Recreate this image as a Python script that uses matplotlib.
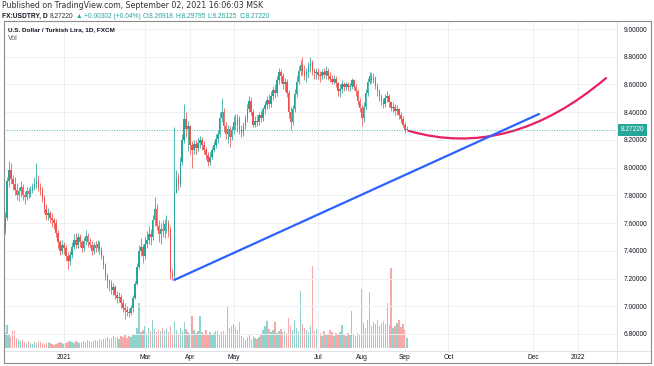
import matplotlib
matplotlib.use('Agg')
import matplotlib.pyplot as plt
import matplotlib.transforms as mtransforms
from matplotlib.path import Path
from matplotlib.patches import PathPatch
from matplotlib.lines import Line2D
import numpy as np
import pandas as pd

# --- Données : USDTRY, bougies journalières FXCM (20 nov 2020 -> 2 sept 2021) ---
first_day = '2020-11-20'

opens = [
    7.55, 7.64, 7.90, 7.98, 7.92, 7.88, 7.84, 7.80, 7.83, 7.86,
    7.80, 7.79, 7.83, 7.81, 7.84, 7.86, 7.88, 7.90, 7.86, 7.84,
    7.78, 7.70, 7.66, 7.67, 7.64, 7.62, 7.60, 7.53, 7.46, 7.40,
    7.44, 7.42, 7.36, 7.33, 7.37, 7.43, 7.48, 7.44, 7.50, 7.46,
    7.42, 7.47, 7.51, 7.46, 7.44, 7.40, 7.44, 7.42, 7.45, 7.41,
    7.36, 7.30, 7.22, 7.18, 7.16, 7.12, 7.14, 7.08, 7.06, 7.07,
    7.02, 6.99, 6.97, 6.96, 6.95, 6.99, 7.06, 7.16, 7.28, 7.40,
    7.43, 7.36, 7.45, 7.48, 7.52, 7.50, 7.62, 7.70, 7.58, 7.52,
    7.56, 7.54, 7.59, 7.60, 7.55, 7.24, 7.22, 7.82, 7.92, 7.88,
    8.04, 8.20, 8.35, 8.28, 8.30, 8.16, 8.13, 8.17, 8.14, 8.18,
    8.20, 8.16, 8.13, 8.09, 8.04, 8.08, 8.13, 8.16, 8.21, 8.24,
    8.36, 8.40, 8.30, 8.24, 8.28, 8.22, 8.27, 8.33, 8.31, 8.36,
    8.28, 8.25, 8.30, 8.35, 8.42, 8.48, 8.40, 8.31, 8.34, 8.33,
    8.38, 8.36, 8.42, 8.45, 8.49, 8.46, 8.52, 8.56, 8.54, 8.63,
    8.69, 8.66, 8.60, 8.62, 8.54, 8.40, 8.33, 8.42, 8.53, 8.62,
    8.70, 8.74, 8.70, 8.66, 8.69, 8.73, 8.76, 8.70, 8.68, 8.69,
    8.67, 8.66, 8.69, 8.67, 8.70, 8.66, 8.64, 8.62, 8.64, 8.61,
    8.55, 8.57, 8.60, 8.58, 8.60, 8.58, 8.59, 8.63, 8.58, 8.55,
    8.48, 8.43, 8.36, 8.44, 8.54, 8.62, 8.66, 8.63, 8.65, 8.59,
    8.55, 8.51, 8.48, 8.46, 8.50, 8.52, 8.47, 8.43, 8.44, 8.41,
    8.42, 8.38, 8.35, 8.31, 8.26918,
]
highs = [
    7.68, 7.93, 8.05, 8.03, 7.95, 7.93, 7.89, 7.86, 7.90, 7.88,
    7.83, 7.86, 7.85, 7.87, 7.89, 7.93, 8.03, 7.95, 7.89, 7.86,
    7.80, 7.74, 7.71, 7.69, 7.67, 7.64, 7.63, 7.55, 7.48, 7.48,
    7.46, 7.44, 7.39, 7.40, 7.46, 7.52, 7.53, 7.53, 7.52, 7.48,
    7.50, 7.55, 7.53, 7.49, 7.47, 7.46, 7.47, 7.48, 7.47, 7.43,
    7.37, 7.31, 7.24, 7.20, 7.19, 7.17, 7.15, 7.11, 7.10, 7.09,
    7.05, 7.02, 7.00, 6.99, 7.01, 7.08, 7.18, 7.31, 7.44, 7.49,
    7.45, 7.50, 7.54, 7.58, 7.56, 7.66, 7.79, 7.74, 7.62, 7.60,
    7.62, 7.63, 7.66, 7.62, 7.58, 7.27, 8.29, 7.98, 7.96, 8.08,
    8.24, 8.46, 8.40, 8.34, 8.31, 8.19, 8.20, 8.20, 8.22, 8.23,
    8.22, 8.19, 8.15, 8.11, 8.11, 8.15, 8.19, 8.24, 8.27, 8.40,
    8.50, 8.43, 8.33, 8.31, 8.30, 8.30, 8.37, 8.39, 8.39, 8.37,
    8.31, 8.33, 8.38, 8.46, 8.52, 8.51, 8.42, 8.37, 8.38, 8.40,
    8.41, 8.44, 8.48, 8.52, 8.53, 8.55, 8.59, 8.60, 8.66, 8.72,
    8.71, 8.68, 8.65, 8.64, 8.56, 8.44, 8.45, 8.57, 8.66, 8.73,
    8.78, 8.80, 8.74, 8.72, 8.76, 8.80, 8.78, 8.72, 8.72, 8.72,
    8.70, 8.71, 8.72, 8.73, 8.72, 8.69, 8.67, 8.67, 8.66, 8.62,
    8.60, 8.63, 8.62, 8.62, 8.62, 8.61, 8.65, 8.64, 8.60, 8.57,
    8.50, 8.45, 8.47, 8.57, 8.65, 8.69, 8.69, 8.68, 8.66, 8.61,
    8.57, 8.53, 8.50, 8.53, 8.55, 8.53, 8.48, 8.47, 8.46, 8.45,
    8.43, 8.40, 8.37, 8.33, 8.29795,
]
lows = [
    7.52, 7.62, 7.86, 7.88, 7.84, 7.80, 7.77, 7.76, 7.79, 7.77,
    7.74, 7.77, 7.78, 7.79, 7.82, 7.84, 7.85, 7.83, 7.80, 7.75,
    7.67, 7.62, 7.62, 7.60, 7.57, 7.56, 7.50, 7.42, 7.37, 7.38,
    7.38, 7.33, 7.27, 7.30, 7.35, 7.41, 7.42, 7.42, 7.43, 7.39,
    7.40, 7.44, 7.43, 7.42, 7.37, 7.38, 7.39, 7.40, 7.38, 7.34,
    7.27, 7.19, 7.13, 7.11, 7.09, 7.08, 7.05, 7.02, 7.03, 6.99,
    6.96, 6.91, 6.93, 6.92, 6.94, 6.96, 7.05, 7.15, 7.27, 7.36,
    7.31, 7.34, 7.42, 7.45, 7.44, 7.48, 7.58, 7.55, 7.46, 7.45,
    7.50, 7.49, 7.53, 7.50, 7.20, 7.19, 7.20, 7.82, 7.84, 7.86,
    8.02, 8.18, 8.22, 8.12, 8.10, 8.00, 8.10, 8.10, 8.12, 8.14,
    8.13, 8.10, 8.06, 8.01, 8.02, 8.06, 8.11, 8.14, 8.18, 8.22,
    8.33, 8.26, 8.21, 8.18, 8.15, 8.20, 8.24, 8.27, 8.26, 8.24,
    8.22, 8.23, 8.28, 8.33, 8.40, 8.38, 8.29, 8.29, 8.30, 8.31,
    8.33, 8.34, 8.39, 8.42, 8.43, 8.44, 8.49, 8.50, 8.52, 8.60,
    8.61, 8.57, 8.55, 8.51, 8.36, 8.27, 8.31, 8.40, 8.51, 8.60,
    8.66, 8.67, 8.63, 8.62, 8.65, 8.69, 8.67, 8.64, 8.64, 8.64,
    8.62, 8.64, 8.65, 8.64, 8.63, 8.62, 8.60, 8.60, 8.58, 8.52,
    8.51, 8.54, 8.55, 8.56, 8.55, 8.55, 8.57, 8.56, 8.52, 8.45,
    8.40, 8.30, 8.33, 8.42, 8.52, 8.60, 8.61, 8.61, 8.57, 8.52,
    8.48, 8.45, 8.43, 8.44, 8.47, 8.44, 8.41, 8.40, 8.38, 8.38,
    8.35, 8.32, 8.29, 8.25, 8.26125,
]
closes = [
    7.64, 7.90, 7.98, 7.92, 7.88, 7.84, 7.80, 7.83, 7.86, 7.80,
    7.79, 7.83, 7.81, 7.84, 7.86, 7.88, 7.90, 7.86, 7.84, 7.78,
    7.70, 7.66, 7.67, 7.64, 7.62, 7.60, 7.53, 7.46, 7.40, 7.44,
    7.42, 7.36, 7.33, 7.37, 7.43, 7.48, 7.44, 7.50, 7.46, 7.42,
    7.47, 7.51, 7.46, 7.44, 7.40, 7.44, 7.42, 7.45, 7.41, 7.36,
    7.30, 7.22, 7.18, 7.16, 7.12, 7.14, 7.08, 7.06, 7.07, 7.02,
    6.99, 6.97, 6.96, 6.95, 6.99, 7.06, 7.16, 7.28, 7.40, 7.43,
    7.36, 7.45, 7.48, 7.52, 7.50, 7.62, 7.70, 7.58, 7.52, 7.56,
    7.54, 7.59, 7.60, 7.55, 7.24, 7.22, 7.82, 7.92, 7.88, 8.04,
    8.20, 8.35, 8.28, 8.30, 8.16, 8.13, 8.17, 8.14, 8.18, 8.20,
    8.16, 8.13, 8.09, 8.04, 8.08, 8.13, 8.16, 8.21, 8.24, 8.36,
    8.40, 8.30, 8.24, 8.28, 8.22, 8.27, 8.33, 8.31, 8.36, 8.28,
    8.25, 8.30, 8.35, 8.42, 8.48, 8.40, 8.31, 8.34, 8.33, 8.38,
    8.36, 8.42, 8.45, 8.49, 8.46, 8.52, 8.56, 8.54, 8.63, 8.69,
    8.66, 8.60, 8.62, 8.54, 8.40, 8.33, 8.42, 8.53, 8.62, 8.70,
    8.74, 8.70, 8.66, 8.69, 8.73, 8.76, 8.70, 8.68, 8.69, 8.67,
    8.66, 8.69, 8.67, 8.70, 8.66, 8.64, 8.62, 8.64, 8.61, 8.55,
    8.57, 8.60, 8.58, 8.60, 8.58, 8.59, 8.63, 8.58, 8.55, 8.48,
    8.43, 8.36, 8.44, 8.54, 8.62, 8.66, 8.63, 8.65, 8.59, 8.55,
    8.51, 8.48, 8.46, 8.50, 8.52, 8.47, 8.43, 8.44, 8.41, 8.42,
    8.38, 8.35, 8.31, 8.26918, 8.27220,
]
volumes = [
    15, 23, 13, 11, 17, 18, 10, 9, 7, 8,
    6, 5, 7, 5, 4, 6, 5, 7, 6, 5,
    4, 5, 6, 5, 4, 3, 4, 5, 6, 5,
    4, 5, 6, 7, 6, 5, 7, 6, 5, 6,
    7, 6, 8, 7, 6, 7, 8, 7, 9, 8,
    9, 10, 11, 9, 10, 12, 10, 11, 9, 12,
    11, 13, 10, 12, 11, 13, 14, 20, 45, 16,
    18, 22, 15, 20, 17, 28, 19, 16, 18, 17,
    20, 17, 19, 16, 22, 14, 27, 18, 15, 20,
    17, 26, 19, 16, 14, 32, 18, 15, 17, 32,
    16, 13, 18, 14, 16, 13, 15, 17, 17, 14,
    16, 17, 13, 42, 20, 22, 24, 21, 18, 26,
    12, 10, 8, 11, 13, 9, 12, 10, 9, 11,
    13, 18, 22, 27, 19, 16, 18, 26, 15, 17,
    19, 16, 17, 15, 30, 22, 18, 28, 20, 17,
    57, 24, 20, 18, 16, 22, 82, 17, 19, 37,
    15, 12, 17, 14, 13, 18, 16, 12, 15, 14,
    16, 23, 14, 12, 15, 13, 37, 14, 12, 15,
    13, 59, 25, 20, 28, 56, 22, 26, 24, 28,
    22, 25, 27, 24, 45, 23, 80, 20, 22, 25,
    28, 21, 24, 18, 10,
]

last_price = 8.27220

# dessins : ligne de tendance et courbe de projection
trend_dates = ['2021-03-22', '2021-12-06']
trend_prices = [7.19, 8.387]
curve_dates = ['2021-09-03', '2021-11-15', '2022-01-21']
curve_prices = [8.265, 8.055, 8.646]

price_ticks = [6.8, 7.0, 7.2, 7.4, 7.6, 7.8, 8.0, 8.2, 8.4, 8.6, 8.8, 9.0]
time_ticks = ['2021-01-01', '2021-03-01', '2021-04-01', '2021-05-03', '2021-07-01',
              '2021-08-02', '2021-09-01', '2021-10-01', '2021-12-01', '2022-01-03']
time_labels = ['2021', 'Mar', 'Apr', 'May', 'Jul', 'Aug', 'Sep', 'Oct', 'Dec', '2022']

# --- Couleurs ---
UP, DOWN = '#26a69a', '#ef5350'
UP_VOL, DOWN_VOL = '#92d2cc', '#f7a9a7'
TXT = '#131722'
FONT = ['Liberation Sans', 'DejaVu Sans']

# axe des x en jours ouvrés
days = pd.bdate_range(first_day, '2022-03-31')
pos = {d: i for i, d in enumerate(days)}
def xi(d):
    return pos[pd.Timestamp(d)]

o = np.array(opens); h = np.array(highs); l = np.array(lows); c = np.array(closes)
x = np.arange(len(c))
up = c >= o
cols = [UP if u else DOWN for u in up]

W, H = 654, 366
fig = plt.figure(figsize=(W / 100, H / 100), dpi=100)
fig.patch.set_facecolor('white')
renderer = fig.canvas.get_renderer()

# zone du graphique en pixels
left, right, top, bottom = 4, 617, 21, 351
rect = [left / W, 1 - bottom / H, (right - left) / W, (bottom - top) / H]
ax = fig.add_axes(rect)
vax = ax.twinx()
ax.set_zorder(vax.get_zorder() + 1)
ax.patch.set_visible(False)

# volumes
vax.bar(x, volumes, width=0.72, color=[UP_VOL if u else DOWN_VOL for u in up], linewidth=0)
vmax = max(volumes)
vax.set_ylim(-0.037 * vmax, 4.0 * vmax)
vax.set_yticks([])
for s in vax.spines.values():
    s.set_visible(False)

# bougies
ax.vlines(x, l, h, colors=cols, linewidth=0.55)
body = np.maximum(np.abs(c - o), 0.006)
ax.bar(x, body, bottom=np.minimum(o, c), width=0.8, color=cols, linewidth=0)

# ligne du dernier prix
ax.axhline(last_price, color=UP, linestyle=(0, (1, 2)), linewidth=0.6)

# tendance (bleue) et courbe (rouge)
ax.plot([xi(d) for d in trend_dates], trend_prices, color='#2962ff', linewidth=1.6,
        solid_capstyle='round')
verts = list(zip([xi(d) for d in curve_dates], curve_prices))
curve = PathPatch(Path(verts, [Path.MOVETO, Path.CURVE3, Path.CURVE3]),
                  fill=False, edgecolor='#e91e63', linewidth=1.6, capstyle='round')
ax.add_patch(curve)

# axes
i0 = xi('2021-01-01')
px_per_bar = 1.971
ax.set_xlim(i0 + (left - 64) / px_per_bar, i0 + (right - 64) / px_per_bar)
ppu = 138.6
ax.set_ylim(6.8 - (bottom - 334) / ppu, 9.0 + (29 - top) / ppu)

ax.set_xticks([xi(d) for d in time_ticks])
ax.set_xticklabels(time_labels)
ax.set_yticks(price_ticks)
ax.set_yticklabels([f'{p:.5f}' for p in price_ticks])
ax.yaxis.tick_right()
ax.tick_params(axis='both', length=0, labelsize=4.8, labelcolor=TXT)
ax.tick_params(axis='y', pad=5)
ax.tick_params(axis='x', pad=2.5)
for lab in ax.get_xticklabels() + ax.get_yticklabels():
    lab.set_family(FONT)
ax.grid(True, color='#eef0f5', linewidth=0.7)
ax.set_axisbelow(True)
for s in ax.spines.values():
    s.set_visible(False)

# étiquette du dernier prix
tr = mtransforms.blended_transform_factory(ax.transAxes, ax.transData)
ax.text(1.006, last_price, f'{last_price:.5f}', transform=tr, color='white',
        fontsize=4.8, family=FONT, va='center', ha='left', clip_on=False,
        bbox=dict(boxstyle='square,pad=0.35', facecolor=UP, edgecolor='none'))

# cadre
def fline(x0, y0, x1, y1, color, lw=0.8):
    fig.add_artist(Line2D([x0 / W, x1 / W], [1 - y0 / H, 1 - y1 / H],
                          transform=fig.transFigure, color=color, linewidth=lw))

fline(right, top, right, 363, '#e0e3eb')
fline(left, bottom, 651, bottom, '#e0e3eb')
fline(left, top, 651, top, '#8c8c8c')
fline(left, 363, 651, 363, '#8c8c8c')
fline(left, top, left, 363, '#8c8c8c')
fline(651, top, 651, 363, '#8c8c8c')

# --- Textes (taille ajustée à la largeur mesurée sur l'image) ---
def line_of_text(x0, y, pieces, width_px, family=FONT):
    # largeur naturelle à 10 pt, puis mise à l'échelle
    tmp = [fig.text(0, 0, s, fontsize=10, fontweight=wt, family=family) for s, _, wt in pieces]
    tmp += [fig.text(0, 0, 'a a', fontsize=10, family=family),
            fig.text(0, 0, 'aa', fontsize=10, family=family)]
    ws = [t.get_window_extent(renderer).width for t in tmp]
    for t in tmp:
        t.remove()
    sp = ws[-2] - ws[-1]
    ws = ws[:-2]
    k = width_px / (sum(ws) + sp * (len(pieces) - 1))
    xpos = x0
    for (s, col, wt), w in zip(pieces, ws):
        fig.text(xpos / W, 1 - y / H, s, fontsize=10 * k, color=col, fontweight=wt,
                 family=family, va='center', ha='left')
        xpos += (w + sp) * k

line_of_text(2, 5.5, [('Published on TradingView.com, September 02, 2021 16:06:03 MSK',
                       '#333333', 'normal')], 260, family=['DejaVu Sans'])
line_of_text(2, 16, [
    ('FX:USDTRY, D', TXT, 'bold'), ('8.27220', '#333333', 'normal'),
    ('\u25b2', UP, 'normal'), ('+0.00302 (+0.04%)', UP, 'normal'),
    ('O:8.26918', UP, 'normal'), ('H:8.29795', UP, 'normal'),
    ('L:8.26125', UP, 'normal'), ('C:8.27220', UP, 'normal'),
], 268)
line_of_text(8, 30, [('U.S. Dollar / Turkish Lira, 1D, FXCM', TXT, 'bold')], 108)
fig.text(8 / W, 1 - 38 / H, 'Vol', fontsize=5.0, color='#555555', family=FONT,
         va='center', ha='left')

fig.savefig('out.png', dpi=100, facecolor='white')
plt.close(fig)
